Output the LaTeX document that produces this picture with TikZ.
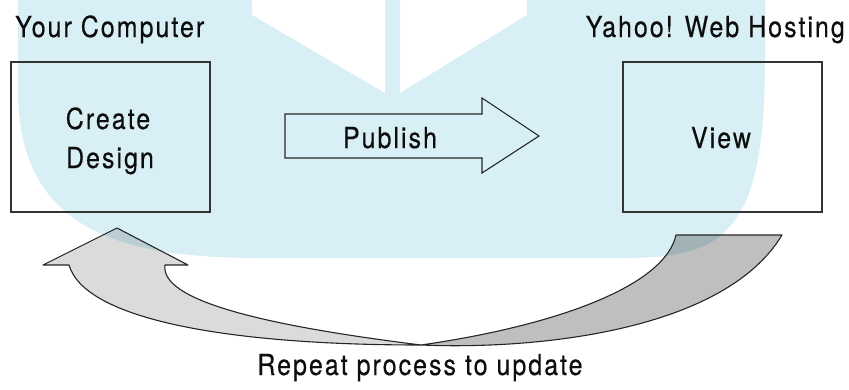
\documentclass[tikz,border=0pt]{standalone}
\usepackage{fontspec}
\setmainfont[FakeStretch=0.86,LetterSpace=7,FakeBold=0.4]{TeX Gyre Heros}
\definecolor{wm}{RGB}{216,239,245}
\begin{document}
\begin{tikzpicture}[x=1pt,y=-1pt,
  lbl/.style={font=\fontsize{29}{40}\selectfont, inner sep=0pt, text=black!95, align=center},
  box/.style={draw=black!80, line width=1.1pt, minimum width=199pt, minimum height=150pt, inner sep=0pt},
  outl/.style={draw=black!85, line width=1.1pt, line join=miter},
  curv/.style={draw=black!85, line width=1.1pt, line join=round, fill=black},
]
\useasboundingbox (0,0) rectangle (849,389);
% watermark
\fill[wm] (18,-10) -- (252,-10) -- (252,15) -- (385,93) -- (385,-10) -- (400,-10)
  -- (400,93) -- (527,15) -- (527,-10) -- (765,-10) -- (765,60)
  .. controls (765,240) and (720,258) .. (620,258) -- (260,258)
  .. controls (120,258) and (18,230) .. (18,90) -- cycle;
% boxes
\node[box] (create) at (110.5,137) {};
\node[box] (view) at (722.5,137) {};
\node[lbl, anchor=base] (createtxt) at (108,129) {Create};
\node[lbl, anchor=base] (designtxt) at (110,168) {Design};
\node[lbl, anchor=base] (viewtxt) at (721,148) {View};
\node[lbl, anchor=base west] (yc) at (15,37) {Your Computer};
\node[lbl, anchor=base east] (yh) at (845,37) {Yahoo! Web Hosting};
% publish arrow
\draw[outl] (285,114) -- (482,114) -- (482,98) -- (539,136) -- (482,173) -- (482,158) -- (285,158) -- cycle;
\node[lbl, anchor=base] (pub) at (390,148) {Publish};
% curved return arrows
\path[curv, fill opacity=0.14] (421,345) .. controls (230,345) and (85,320) .. (69,265)
  -- (43,265) -- (117,228) -- (188,265) -- (165,265)
  .. controls (160,300) and (260,325) .. (421,345) -- cycle;
\path[curv, fill opacity=0.25] (676,235) -- (782,235)
  .. controls (725,330) and (540,350) .. (421,345)
  .. controls (560,325) and (665,285) .. (676,235) -- cycle;
\node[lbl, anchor=base] (rep) at (420,375) {Repeat process to update};
\end{tikzpicture}
\end{document}
